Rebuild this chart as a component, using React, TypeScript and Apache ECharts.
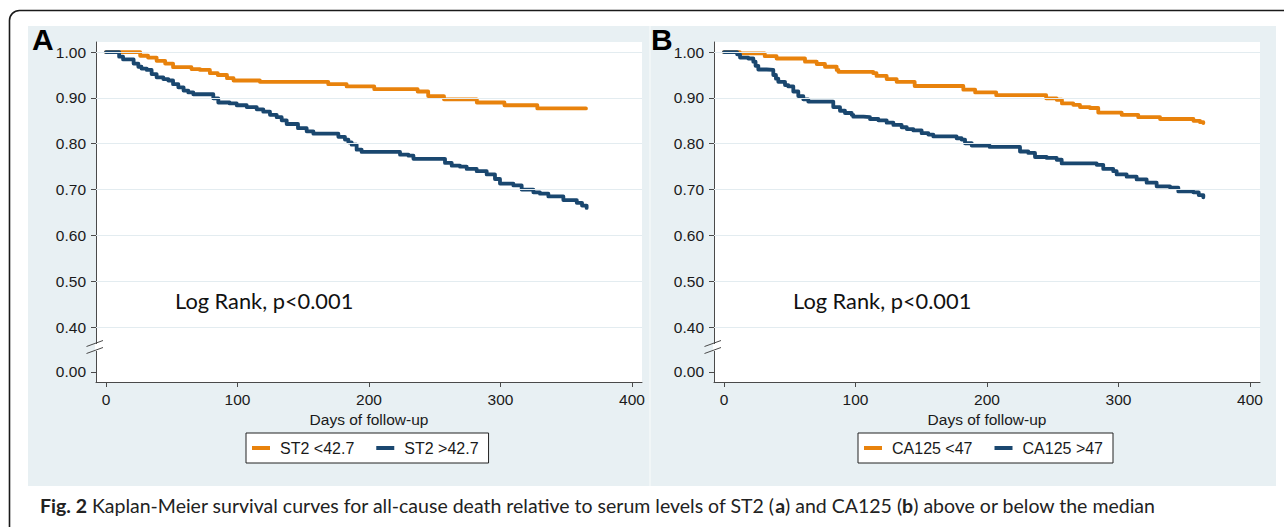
import React, { useEffect, useRef } from "react";
import * as echarts from "echarts";

// ---------- data ----------
const X_TICKS = [0, 100, 200, 300, 400];
const Y_TICK_VALUES = [0.302, 0.4, 0.5, 0.6, 0.7, 0.8, 0.9, 1.0];
const Y_TICK_LABELS = ["0.00", "0.40", "0.50", "0.60", "0.70", "0.80", "0.90", "1.00"];
const GRIDLINE_VALUES = [0.4, 0.5, 0.6, 0.7, 0.8, 0.9, 1.0];

const st2LowName = "ST2 <42.7";
const st2LowDays = [0, 26, 32, 38.5, 45, 51, 65, 71.5, 79, 85, 92, 97, 117, 169, 183, 204, 237, 245, 257, 282, 303, 328, 365];
const st2LowSurv = [1.0, 0.992, 0.988, 0.981, 0.975, 0.967, 0.963, 0.961, 0.954, 0.95, 0.943, 0.938, 0.935, 0.93, 0.925, 0.919, 0.914, 0.904, 0.897, 0.89, 0.884, 0.877, 0.877];

const st2HighName = "ST2 >42.7";
const st2HighDays = [0, 10, 13, 21, 24.6, 27, 31, 34.7, 38.5, 43.6, 47.4, 51, 55, 59, 62.6, 66.4, 81.6, 85.4, 94, 99.4, 107, 114.6, 119.6, 124.7, 129.8, 133.6, 137.4, 146, 152.6, 157.7, 176.7, 181.7, 184.3, 186.8, 190.6, 194.4, 223.6, 230, 233.8, 257.8, 262.9, 269.2, 274.3, 281.9, 289.5, 295.8, 299.6, 309.8, 316.1, 325, 330, 336.4, 347.8, 358, 362, 365.5];
const st2HighSurv = [1.0, 0.99, 0.984, 0.975, 0.968, 0.964, 0.961, 0.952, 0.945, 0.941, 0.938, 0.93, 0.923, 0.916, 0.912, 0.908, 0.899, 0.89, 0.888, 0.884, 0.88, 0.875, 0.87, 0.863, 0.858, 0.851, 0.843, 0.834, 0.827, 0.822, 0.815, 0.809, 0.803, 0.798, 0.787, 0.782, 0.776, 0.774, 0.767, 0.758, 0.752, 0.75, 0.745, 0.74, 0.733, 0.723, 0.713, 0.709, 0.7, 0.694, 0.691, 0.685, 0.677, 0.671, 0.665, 0.66];

const caLowName = "CA125 <47";
const caLowDays = [0, 12, 31, 40, 61.6, 70.5, 76.8, 85.7, 87, 113.5, 116, 123.7, 131.3, 145, 182, 191, 207, 245, 253, 257, 265.6, 270.7, 278.3, 284.6, 302.4, 315, 331.6, 357, 362, 364.5];
const caLowSurv = [1.0, 0.997, 0.991, 0.986, 0.979, 0.974, 0.968, 0.961, 0.957, 0.954, 0.948, 0.941, 0.935, 0.926, 0.918, 0.912, 0.906, 0.899, 0.896, 0.888, 0.885, 0.88, 0.878, 0.868, 0.863, 0.858, 0.854, 0.85, 0.847, 0.845];

const caHighName = "CA125 >47";
const caHighDays = [0, 10, 12.2, 18.5, 22.3, 24, 26.1, 32.4, 37.5, 39.5, 41.3, 46.4, 48.9, 52.7, 56.5, 60.3, 64.1, 83.1, 88.2, 92, 97.1, 98.3, 106, 111, 117.4, 123.7, 128.8, 135.1, 139, 144, 150.3, 155.4, 159.2, 176.9, 180.7, 183.3, 188.4, 202, 225.1, 231.4, 236.5, 245.4, 253, 256.8, 283.4, 288.4, 296, 298.6, 306.2, 313.8, 321.4, 329, 339.2, 345.5, 356.9, 361, 364.5];
const caHighSurv = [1.0, 0.995, 0.988, 0.986, 0.979, 0.97, 0.962, 0.961, 0.95, 0.942, 0.935, 0.928, 0.925, 0.914, 0.904, 0.897, 0.892, 0.88, 0.872, 0.867, 0.863, 0.859, 0.858, 0.854, 0.851, 0.846, 0.841, 0.836, 0.832, 0.829, 0.823, 0.82, 0.816, 0.812, 0.809, 0.801, 0.796, 0.793, 0.783, 0.78, 0.771, 0.769, 0.765, 0.757, 0.754, 0.745, 0.74, 0.733, 0.728, 0.722, 0.715, 0.707, 0.704, 0.696, 0.694, 0.688, 0.683];

const X_AXIS_NAME = "Days of follow-up";
const LOG_RANK_TEXT = "Log Rank, p<0.001";
const CAPTION_BOLD = "Fig. 2";
const CAPTION_TEXT =
  "Kaplan-Meier survival curves for all-cause death relative to serum levels of ST2 ({b|a}) and CA125 ({b|b}) above or below the median";

// ---------- style ----------
const ORANGE = "#E8820C";
const NAVY = "#1A476F";
const BG = "#E8F0F3";
const GRIDLINE = "#E3ECF0";
const AXIS = "#4a4a4a";
const SANS = "'Liberation Sans', Arial, sans-serif";
const CAL = "Lato, 'Open Sans', sans-serif";
const AX_FS = 15.5;

const zip = (a: number[], b: number[]) => a.map((d, i) => [d, b[i]]);

const PANELS = [
  { left: 96, letter: "A", lowName: st2LowName, highName: st2HighName, low: zip(st2LowDays, st2LowSurv), high: zip(st2HighDays, st2HighSurv), legendLeft: 246 },
  { left: 714, letter: "B", lowName: caLowName, highName: caHighName, low: zip(caLowDays, caLowSurv), high: zip(caHighDays, caHighSurv), legendLeft: 858 },
];

const GRID_TOP = 42;
const GRID_H = 340;
const GRID_W = 546;

function buildOption() {
  const grids: any[] = [];
  const xAxes: any[] = [];
  const yAxes: any[] = [];
  const series: any[] = [];
  const legends: any[] = [];
  const graphics: any[] = [];

  graphics.push({ type: "rect", z: -10, shape: { x: 28, y: 26, width: 1248, height: 460 }, style: { fill: BG } });
  graphics.push({ type: "rect", z: -9, shape: { x: 649, y: 26, width: 2, height: 460 }, style: { fill: "#F1F6F7" } });
  graphics.push({ type: "rect", z: 20, shape: { x: 9.5, y: 10.5, width: 1400, height: 700, r: 10 }, style: { fill: "none", stroke: "#1a1a1a", lineWidth: 1.6 } });

  PANELS.forEach((p, i) => {
    grids.push({ left: p.left, top: GRID_TOP, width: GRID_W, height: GRID_H, show: true, backgroundColor: "#ffffff", borderWidth: 0 });
    xAxes.push({
      type: "value",
      gridIndex: i,
      min: -7.6,
      max: 407.6,
      name: X_AXIS_NAME,
      nameLocation: "middle",
      nameGap: 28,
      nameTextStyle: { fontFamily: SANS, fontSize: AX_FS, color: "#1a1a1a" },
      axisLine: { show: true, onZero: false, lineStyle: { color: AXIS, width: 1 } },
      axisTick: { show: true, length: 5, lineStyle: { color: AXIS }, customValues: X_TICKS },
      axisLabel: { fontFamily: SANS, fontSize: AX_FS, color: "#1a1a1a", margin: 9, customValues: X_TICKS },
      splitLine: { show: false },
    });
    yAxes.push({
      type: "value",
      gridIndex: i,
      min: 0.28,
      max: 1.022,
      axisLine: { show: true, onZero: false, lineStyle: { color: AXIS, width: 1 } },
      axisTick: { show: true, length: 5, lineStyle: { color: AXIS }, customValues: Y_TICK_VALUES },
      axisLabel: {
        fontFamily: SANS,
        fontSize: AX_FS,
        color: "#1a1a1a",
        margin: 10,
        customValues: Y_TICK_VALUES,
        formatter: (v: number) => {
          const k = Y_TICK_VALUES.findIndex((t) => Math.abs(t - v) < 1e-6);
          return k >= 0 ? Y_TICK_LABELS[k] : "";
        },
      },
      splitLine: { show: false },
    });
    series.push({
      type: "line",
      name: "grid" + i,
      xAxisIndex: i,
      yAxisIndex: i,
      data: [],
      z: 1,
      silent: true,
      markLine: {
        silent: true,
        symbol: "none",
        label: { show: false },
        lineStyle: { color: GRIDLINE, width: 1.2, type: "solid" },
        data: GRIDLINE_VALUES.map((v) => ({ yAxis: v })),
      },
    });
    series.push({
      type: "line",
      name: p.lowName,
      xAxisIndex: i,
      yAxisIndex: i,
      data: p.low,
      step: "end",
      showSymbol: false,
      symbol: "none",
      z: 3,
      color: ORANGE,
      itemStyle: { color: ORANGE },
      lineStyle: { color: ORANGE, width: 3.8, cap: "round", join: "round" },
    });
    series.push({
      type: "line",
      name: p.highName,
      xAxisIndex: i,
      yAxisIndex: i,
      data: p.high,
      step: "end",
      showSymbol: false,
      symbol: "none",
      z: 4,
      color: NAVY,
      itemStyle: { color: NAVY },
      lineStyle: { color: NAVY, width: 3.8, cap: "round", join: "round" },
    });
    legends.push({
      left: p.legendLeft,
      top: 433,
      orient: "horizontal",
      data: [p.lowName, p.highName],
      icon: "rect",
      itemWidth: 18,
      itemHeight: 4,
      itemGap: 22,
      padding: [6, 10, 6, 6],
      backgroundColor: "#ffffff",
      borderColor: "#222",
      borderWidth: 1,
      borderRadius: 0,
      selectedMode: false,
      textStyle: { fontFamily: SANS, fontSize: 16, color: "#1a1a1a", padding: [0, 0, 0, 5], lineHeight: 18 },
    });

    const dx = p.left - 96;
    graphics.push({ type: "text", z: 10, x: (p.letter === "A" ? 32 : 651), y: 39, style: { text: p.letter, fontFamily: SANS, fontWeight: "bold", fontSize: 30, fill: "#000", verticalAlign: "middle" } });
    graphics.push({ type: "text", z: 10, x: 175 + dx, y: 300, style: { text: LOG_RANK_TEXT, fontFamily: CAL, fontSize: 21.8, fill: "#111", verticalAlign: "middle" } });
    // axis break marks
    graphics.push({ type: "rect", z: 10, shape: { x: 95 + dx, y: 344, width: 2.5, height: 7 }, style: { fill: "#ffffff" } });
    graphics.push({ type: "line", z: 11, shape: { x1: 86.5 + dx, y1: 346.5, x2: 103 + dx, y2: 340.5 }, style: { stroke: AXIS, lineWidth: 1 } });
    graphics.push({ type: "line", z: 11, shape: { x1: 86.5 + dx, y1: 353.5, x2: 103 + dx, y2: 347.5 }, style: { stroke: AXIS, lineWidth: 1 } });
  });

  graphics.push({
    type: "text",
    z: 10,
    x: 40,
    y: 505,
    style: {
      text: "{b|" + CAPTION_BOLD + "} " + CAPTION_TEXT,
      fontFamily: CAL,
      fontSize: 19.5,
      fill: "#222",
      verticalAlign: "middle",
      rich: { b: { fontFamily: CAL, fontSize: 19.5, fontWeight: "bold", fill: "#222" } },
    },
  });

  return {
    animation: false,
    backgroundColor: "#ffffff",
    textStyle: { fontFamily: SANS },
    grid: grids,
    xAxis: xAxes,
    yAxis: yAxes,
    legend: legends,
    series,
    graphic: { elements: graphics },
  };
}

export default function App() {
  const ref = useRef<HTMLDivElement>(null);
  useEffect(() => {
    if (!ref.current) return;
    const chart = echarts.init(ref.current, undefined, { renderer: "svg" });
    chart.setOption(buildOption() as any);
    return () => chart.dispose();
  }, []);
  return <div ref={ref} style={{ position: "absolute", left: 0, top: 0, width: 1284, height: 527 }} />;
}
